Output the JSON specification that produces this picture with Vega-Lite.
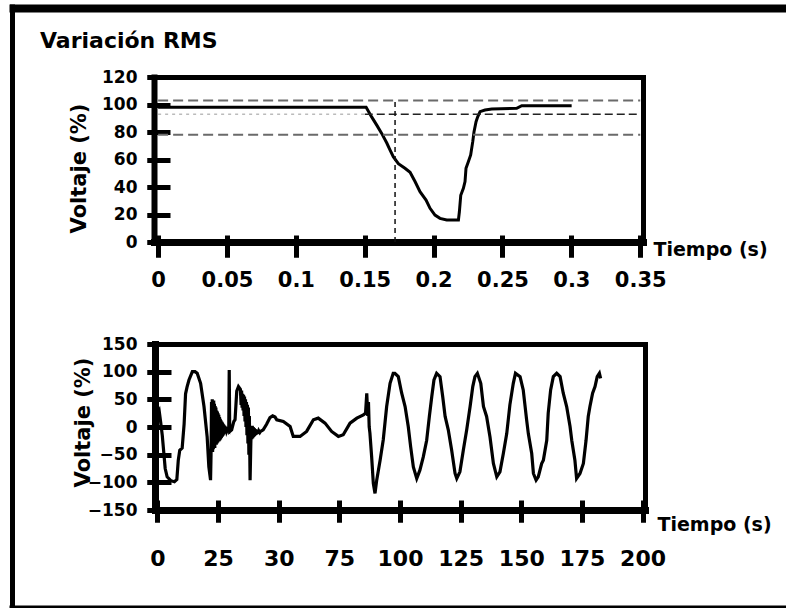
{
  "$schema": "https://vega.github.io/schema/vega-lite/v6.json",
  "width": 774,
  "height": 600,
  "autosize": {"type": "none"},
  "padding": {"left": 12, "top": 8, "right": 0, "bottom": 0},
  "background": "white",
  "title": {"text": "Variación RMS", "anchor": "start", "frame": "group", "dx": 28, "offset": -62, "baseline": "alphabetic", "font": "DejaVu Sans", "fontSize": 22, "fontWeight": "bold", "color": "black"},
  "config": {
    "view": {"stroke": null},
    "axis": {"labelFont": "DejaVu Sans", "labelFontWeight": "bold", "labelColor": "black", "titleFont": "DejaVu Sans", "titleFontWeight": "bold", "titleColor": "black", "grid": false, "domainColor": "black", "tickColor": "black", "labelFlush": false, "labelOverlap": false, "tickCap": "butt", "domainCap": "square"}
  },
  "datasets": {
    "rms": [
      {"t": 0, "v": 98}, {"t": 0.151, "v": 98}, {"t": 0.155, "v": 91}, {"t": 0.1587, "v": 85}, {"t": 0.1623, "v": 79},
      {"t": 0.166, "v": 72}, {"t": 0.1683, "v": 67}, {"t": 0.1707, "v": 62}, {"t": 0.1744, "v": 57}, {"t": 0.1792, "v": 53.6},
      {"t": 0.1829, "v": 50.7}, {"t": 0.1865, "v": 44}, {"t": 0.1901, "v": 36.6}, {"t": 0.1945, "v": 30.5}, {"t": 0.1974, "v": 24.5},
      {"t": 0.201, "v": 19.6}, {"t": 0.2046, "v": 17.2}, {"t": 0.2095, "v": 16}, {"t": 0.218, "v": 16}, {"t": 0.2187, "v": 22},
      {"t": 0.2197, "v": 34}, {"t": 0.2216, "v": 39}, {"t": 0.2228, "v": 44}, {"t": 0.2235, "v": 53.6}, {"t": 0.2252, "v": 58.4},
      {"t": 0.2269, "v": 63.3}, {"t": 0.2284, "v": 73}, {"t": 0.2293, "v": 80}, {"t": 0.2308, "v": 87.5}, {"t": 0.232, "v": 91},
      {"t": 0.2337, "v": 94.8}, {"t": 0.2373, "v": 96}, {"t": 0.2422, "v": 96.7}, {"t": 0.2603, "v": 97.2}, {"t": 0.264, "v": 99.1},
      {"t": 0.3002, "v": 99.1}
    ],
    "limites": [
      {"t0": 0, "t1": 0.35, "v": 103},
      {"t0": 0, "t1": 0.35, "v": 78}
    ],
    "medio_b": [{"t0": 0.15, "t1": 0.35, "v": 93}],
    "medio_a": [{"t0": 0, "t1": 0.15, "v": 93}],
    "marca": [{"t": 0.172, "v0": 0, "v1": 103}],
    "onda": [
      {"t": 0, "v": 25}, {"t": 0.7, "v": 30}, {"t": 1.3, "v": 10}, {"t": 2.0, "v": -15}, {"t": 2.6, "v": -45},
      {"t": 3.2, "v": -75}, {"t": 4.0, "v": -90}, {"t": 5.5, "v": -97}, {"t": 7.0, "v": -99}, {"t": 8.0, "v": -95},
      {"t": 8.6, "v": -60}, {"t": 9.2, "v": -42}, {"t": 10.2, "v": -38}, {"t": 11.0, "v": 5}, {"t": 11.6, "v": 60},
      {"t": 12.2, "v": 72}, {"t": 13.0, "v": 85}, {"t": 14.4, "v": 100}, {"t": 15.5, "v": 100}, {"t": 16.4, "v": 97},
      {"t": 17.8, "v": 79}, {"t": 19.2, "v": 37}, {"t": 20.5, "v": -18}, {"t": 21.2, "v": -72}, {"t": 21.9, "v": -96},
      {"t": 22.1, "v": -50}, {"t": 22.3, "v": 45}, {"t": 22.45, "v": -40}, {"t": 22.6, "v": 50}, {"t": 22.75, "v": -45},
      {"t": 22.9, "v": 45}, {"t": 23.05, "v": -40}, {"t": 23.2, "v": 48}, {"t": 23.35, "v": -35}, {"t": 23.5, "v": 42},
      {"t": 23.65, "v": -38}, {"t": 23.8, "v": 38}, {"t": 23.95, "v": -30}, {"t": 24.1, "v": 35}, {"t": 24.25, "v": -32},
      {"t": 24.4, "v": 30}, {"t": 24.55, "v": -30}, {"t": 24.7, "v": 28}, {"t": 24.85, "v": -28}, {"t": 25.0, "v": 25},
      {"t": 25.15, "v": -25}, {"t": 25.3, "v": 22}, {"t": 25.45, "v": -26}, {"t": 25.6, "v": 18}, {"t": 25.75, "v": -24},
      {"t": 25.9, "v": 15}, {"t": 26.05, "v": -22}, {"t": 26.2, "v": 12}, {"t": 26.35, "v": -20}, {"t": 26.5, "v": 10},
      {"t": 26.65, "v": -18}, {"t": 26.8, "v": 8}, {"t": 26.95, "v": -16}, {"t": 27.1, "v": 6}, {"t": 27.25, "v": -14},
      {"t": 27.4, "v": 4}, {"t": 27.6, "v": -12}, {"t": 27.8, "v": 2}, {"t": 28.0, "v": -10}, {"t": 28.3, "v": 0},
      {"t": 28.6, "v": -8}, {"t": 29.0, "v": -4}, {"t": 29.4, "v": -6}, {"t": 29.6, "v": 103}, {"t": 29.8, "v": -8},
      {"t": 30.6, "v": -5}, {"t": 31.5, "v": 10}, {"t": 32.0, "v": 13}, {"t": 32.7, "v": 65}, {"t": 33.4, "v": 73},
      {"t": 34.2, "v": 68}, {"t": 34.5, "v": 40}, {"t": 34.7, "v": 66}, {"t": 34.9, "v": 35}, {"t": 35.1, "v": 60},
      {"t": 35.3, "v": 30}, {"t": 35.5, "v": 58}, {"t": 35.7, "v": 20}, {"t": 35.9, "v": 55}, {"t": 36.1, "v": 10},
      {"t": 36.3, "v": 50}, {"t": 36.5, "v": 0}, {"t": 36.7, "v": 45}, {"t": 36.9, "v": -15}, {"t": 37.1, "v": 40},
      {"t": 37.3, "v": -30}, {"t": 37.5, "v": 35}, {"t": 37.7, "v": -50}, {"t": 37.9, "v": 20}, {"t": 38.2, "v": -96},
      {"t": 38.5, "v": -30}, {"t": 38.7, "v": 0}, {"t": 38.9, "v": -22}, {"t": 39.1, "v": 2}, {"t": 39.3, "v": -20},
      {"t": 39.5, "v": 0}, {"t": 39.7, "v": -18}, {"t": 39.9, "v": -2}, {"t": 40.1, "v": -16}, {"t": 40.3, "v": -4},
      {"t": 40.5, "v": -14}, {"t": 40.7, "v": -5}, {"t": 40.9, "v": -13}, {"t": 41.2, "v": -6}, {"t": 41.5, "v": -12},
      {"t": 41.8, "v": -7}, {"t": 42.2, "v": -10}, {"t": 42.5, "v": -8}, {"t": 43.6, "v": -5}, {"t": 45.0, "v": 5},
      {"t": 46.4, "v": 17}, {"t": 47.5, "v": 20}, {"t": 48.5, "v": 18}, {"t": 49.2, "v": 13}, {"t": 51.9, "v": 10},
      {"t": 54.7, "v": 1}, {"t": 56.0, "v": -17}, {"t": 58.8, "v": -17}, {"t": 61.5, "v": -8}, {"t": 64.3, "v": 13},
      {"t": 66.3, "v": 16}, {"t": 69.1, "v": 7}, {"t": 71.8, "v": -8}, {"t": 74.6, "v": -17}, {"t": 76.6, "v": -14},
      {"t": 79.4, "v": 7}, {"t": 82.2, "v": 16}, {"t": 84.9, "v": 22}, {"t": 85.8, "v": 25}, {"t": 86.3, "v": 61},
      {"t": 86.7, "v": 20}, {"t": 87.0, "v": 45}, {"t": 87.3, "v": 0}, {"t": 87.6, "v": -11}, {"t": 88.3, "v": -53},
      {"t": 89.0, "v": -102}, {"t": 89.7, "v": -120}, {"t": 90.4, "v": -96}, {"t": 91.8, "v": -60}, {"t": 93.1, "v": -23},
      {"t": 94.5, "v": 37}, {"t": 95.9, "v": 79}, {"t": 97.2, "v": 97}, {"t": 97.9, "v": 97}, {"t": 99.3, "v": 91},
      {"t": 100.7, "v": 61}, {"t": 102.1, "v": 37}, {"t": 103.4, "v": 1}, {"t": 104.4, "v": -36}, {"t": 105.5, "v": -72},
      {"t": 106.9, "v": -93}, {"t": 108.2, "v": -78}, {"t": 109.6, "v": -54}, {"t": 111.0, "v": -24}, {"t": 112.1, "v": 19},
      {"t": 113.1, "v": 55}, {"t": 114.0, "v": 85}, {"t": 115.1, "v": 97}, {"t": 116.5, "v": 91}, {"t": 117.6, "v": 55},
      {"t": 118.6, "v": 19}, {"t": 119.9, "v": -5}, {"t": 121.3, "v": -42}, {"t": 122.7, "v": -84}, {"t": 123.4, "v": -93},
      {"t": 124.7, "v": -81}, {"t": 126.1, "v": -42}, {"t": 127.5, "v": -5}, {"t": 128.9, "v": 37}, {"t": 130.0, "v": 73},
      {"t": 130.9, "v": 91}, {"t": 131.9, "v": 97}, {"t": 133.3, "v": 79}, {"t": 134.4, "v": 37}, {"t": 135.7, "v": 19},
      {"t": 137.1, "v": -18}, {"t": 138.5, "v": -66}, {"t": 139.9, "v": -90}, {"t": 141.2, "v": -81}, {"t": 142.6, "v": -48},
      {"t": 144.0, "v": -12}, {"t": 145.3, "v": 40}, {"t": 146.7, "v": 79}, {"t": 147.6, "v": 97}, {"t": 149.5, "v": 91},
      {"t": 150.8, "v": 67}, {"t": 152.2, "v": 13}, {"t": 152.9, "v": -12}, {"t": 154.3, "v": -48}, {"t": 155.0, "v": -84},
      {"t": 156.1, "v": -96}, {"t": 157.0, "v": -90}, {"t": 158.4, "v": -66}, {"t": 159.1, "v": -60}, {"t": 160.5, "v": -24},
      {"t": 161.1, "v": 25}, {"t": 162.1, "v": 67}, {"t": 163.2, "v": 91}, {"t": 164.6, "v": 97}, {"t": 166.0, "v": 91},
      {"t": 167.3, "v": 61}, {"t": 168.7, "v": 37}, {"t": 170.1, "v": 1}, {"t": 170.8, "v": -24}, {"t": 172.1, "v": -60},
      {"t": 172.8, "v": -93}, {"t": 174.2, "v": -84}, {"t": 175.6, "v": -66}, {"t": 176.7, "v": -24}, {"t": 177.6, "v": 19},
      {"t": 178.3, "v": 37}, {"t": 179.4, "v": 61}, {"t": 180.4, "v": 73}, {"t": 181.3, "v": 91}, {"t": 182.2, "v": 97},
      {"t": 182.7, "v": 88}
    ]
  },
  "layer": [
    {
      "layer": [
        {
          "data": {"name": "rms"},
          "mark": {"type": "line", "color": "black", "strokeWidth": 3},
          "encoding": {
            "x": {"field": "t", "type": "quantitative",
              "scale": {"domain": [-0.003, 0.352], "range": [142, 631], "nice": false, "zero": false},
              "axis": {"orient": "bottom", "offset": -366, "values": [0, 0.05, 0.1, 0.15, 0.2, 0.25, 0.3, 0.35], "format": "~g", "tickSize": 15, "tickWidth": 5, "domainWidth": 7, "labelPadding": 12, "labelFontSize": 21,
                "title": "Tiempo (s)", "titleX": 641, "titleY": 7, "titleAlign": "left", "titleBaseline": "middle", "titleAngle": 0, "titleFontSize": 19}},
            "y": {"field": "v", "type": "quantitative",
              "scale": {"domain": [0, 120], "range": [234, 69], "nice": false, "zero": false},
              "axis": {"orient": "left", "offset": -142, "values": [0, 20, 40, 60, 80, 100, 120], "tickSize": 7, "tickWidth": 5, "domainWidth": 6, "labelPadding": 10, "labelFontSize": 17,
                "title": "Voltaje (%)", "titleX": -75, "titleY": 160, "titleAngle": 270, "titleAlign": "center", "titleBaseline": "middle", "titleFontSize": 21}}
          }
        },
        {
          "data": {"name": "limites"},
          "mark": {"type": "rule", "color": "#6a6a6a", "strokeWidth": 2, "strokeDash": [10, 5]},
          "encoding": {
            "x": {"field": "t0", "type": "quantitative",
              "scale": {"domain": [-0.003, 0.352], "range": [142, 631], "nice": false, "zero": false},
              "axis": {"orient": "bottom", "offset": -373, "values": [0, 0.05, 0.1, 0.15, 0.2, 0.25, 0.3, 0.35], "tickSize": 22, "tickWidth": 5, "domain": false, "labels": false, "title": null}},
            "x2": {"field": "t1"},
            "y": {"field": "v", "type": "quantitative",
              "scale": {"domain": [0, 120], "range": [234, 69], "nice": false, "zero": false},
              "axis": {"orient": "left", "offset": -158, "values": [0, 20, 40, 60, 80, 100, 120], "tickSize": 23, "tickWidth": 5, "domain": false, "labels": false, "title": null}}
          }
        },
        {
          "data": {"name": "medio_b"},
          "mark": {"type": "rule", "color": "#222222", "strokeWidth": 1.5, "strokeDash": [8, 4]},
          "encoding": {
            "x": {"field": "t0", "type": "quantitative",
              "scale": {"domain": [-0.003, 0.352], "range": [142, 631], "nice": false, "zero": false},
              "axis": {"orient": "top", "offset": -69, "ticks": false, "labels": false, "domainWidth": 5, "title": null}},
            "x2": {"field": "t1"},
            "y": {"field": "v", "type": "quantitative",
              "scale": {"domain": [0, 120], "range": [234, 69], "nice": false, "zero": false},
              "axis": {"orient": "right", "offset": -143, "ticks": false, "labels": false, "domainWidth": 5, "title": null}}
          }
        },
        {
          "data": {"name": "medio_a"},
          "mark": {"type": "rule", "color": "#bbbbbb", "strokeWidth": 1.5, "strokeDash": [3, 4]},
          "encoding": {
            "x": {"field": "t0", "type": "quantitative", "scale": {"domain": [-0.003, 0.352], "range": [142, 631], "nice": false, "zero": false}, "axis": null},
            "x2": {"field": "t1"},
            "y": {"field": "v", "type": "quantitative", "scale": {"domain": [0, 120], "range": [234, 69], "nice": false, "zero": false}, "axis": null}
          }
        },
        {
          "data": {"name": "marca"},
          "mark": {"type": "rule", "color": "#111111", "strokeWidth": 1.5, "strokeDash": [5, 4]},
          "encoding": {
            "x": {"field": "t", "type": "quantitative", "scale": {"domain": [-0.003, 0.352], "range": [142, 631], "nice": false, "zero": false}, "axis": null},
            "y": {"field": "v0", "type": "quantitative", "scale": {"domain": [0, 120], "range": [234, 69], "nice": false, "zero": false}, "axis": null},
            "y2": {"field": "v1"}
          }
        }
      ],
      "resolve": {"axis": {"x": "independent", "y": "independent"}}
    },
    {
      "layer": [
        {
          "data": {"name": "onda"},
          "mark": {"type": "line", "color": "black", "strokeWidth": 3.2},
          "encoding": {
            "x": {"field": "t", "type": "quantitative",
              "scale": {"domain": [-1, 201], "range": [143, 633], "nice": false, "zero": false},
              "axis": {"orient": "bottom", "offset": -98, "values": [0, 25, 50, 75, 100, 125, 150, 175, 200], "labelExpr": "datum.value == 50 ? '30' : datum.label", "labelDx": -4, "tickSize": 12, "tickWidth": 5, "domainWidth": 7, "labelPadding": 26, "labelFontSize": 22,
                "title": "Tiempo (s)", "titleX": 645, "titleY": 14, "titleAlign": "left", "titleBaseline": "middle", "titleAngle": 0, "titleFontSize": 19}},
            "y": {"field": "v", "type": "quantitative",
              "scale": {"domain": [-150, 150], "range": [502, 336], "nice": false, "zero": false},
              "axis": {"orient": "left", "offset": -143, "values": [-150, -100, -50, 0, 50, 100, 150], "tickSize": 8, "tickWidth": 5, "domainWidth": 7, "labelPadding": 10, "labelFontSize": 17,
                "title": "Voltaje (%)", "titleX": -72, "titleY": 414, "titleAngle": 270, "titleAlign": "center", "titleBaseline": "middle", "titleFontSize": 21}}
          }
        },
        {
          "data": {"name": "onda"},
          "mark": {"type": "line", "strokeOpacity": 0},
          "encoding": {
            "x": {"field": "t", "type": "quantitative",
              "scale": {"domain": [-1, 201], "range": [143, 633], "nice": false, "zero": false},
              "axis": {"orient": "bottom", "offset": -108, "values": [0, 25, 50, 75, 100, 125, 150, 175, 200], "tickSize": 22, "tickWidth": 5, "domain": false, "labels": false, "title": null}},
            "y": {"field": "v", "type": "quantitative",
              "scale": {"domain": [-150, 150], "range": [502, 336], "nice": false, "zero": false},
              "axis": {"orient": "left", "offset": -159, "values": [-150, -100, -50, 0, 50, 100, 150], "tickSize": 24, "tickWidth": 5, "domain": false, "labels": false, "title": null}}
          }
        },
        {
          "data": {"name": "onda"},
          "mark": {"type": "line", "strokeOpacity": 0},
          "encoding": {
            "x": {"field": "t", "type": "quantitative",
              "scale": {"domain": [-1, 201], "range": [143, 633], "nice": false, "zero": false},
              "axis": {"orient": "top", "offset": -336, "ticks": false, "labels": false, "domainWidth": 5, "title": null}},
            "y": {"field": "v", "type": "quantitative",
              "scale": {"domain": [-150, 150], "range": [502, 336], "nice": false, "zero": false},
              "axis": {"orient": "right", "offset": -141, "ticks": false, "labels": false, "domainWidth": 5, "title": null}}
          }
        }
      ],
      "resolve": {"axis": {"x": "independent", "y": "independent"}}
    },
    {
      "layer": [
        {
          "data": {"name": "onda"},
          "mark": {"type": "line", "strokeOpacity": 0},
          "encoding": {
            "x": {"field": "t", "type": "quantitative",
              "scale": {"domain": [-1, 201], "range": [-3, 774], "nice": false, "zero": false},
              "axis": {"orient": "top", "offset": 0, "ticks": false, "labels": false, "domainWidth": 8, "domainCap": "butt", "title": null}},
            "y": {"field": "v", "type": "quantitative",
              "scale": {"domain": [-150, 150], "range": [600, -4], "nice": false, "zero": false},
              "axis": {"orient": "left", "offset": 0, "ticks": false, "labels": false, "domainWidth": 5, "domainCap": "butt", "title": null}}
          }
        },
        {
          "data": {"name": "onda"},
          "mark": {"type": "line", "strokeOpacity": 0},
          "encoding": {
            "x": {"field": "t", "type": "quantitative",
              "scale": {"domain": [-1, 201], "range": [-3, 774], "nice": false, "zero": false},
              "axis": {"orient": "bottom", "offset": -1.5, "ticks": false, "labels": false, "domainWidth": 3, "domainCap": "butt", "title": null}},
            "y": {"field": "v", "type": "quantitative",
              "scale": {"domain": [-150, 150], "range": [600, -4], "nice": false, "zero": false},
              "axis": null}
          }
        }
      ],
      "resolve": {"axis": {"x": "independent", "y": "independent"}}
    }
  ],
  "resolve": {"scale": {"x": "independent", "y": "independent"}}
}
